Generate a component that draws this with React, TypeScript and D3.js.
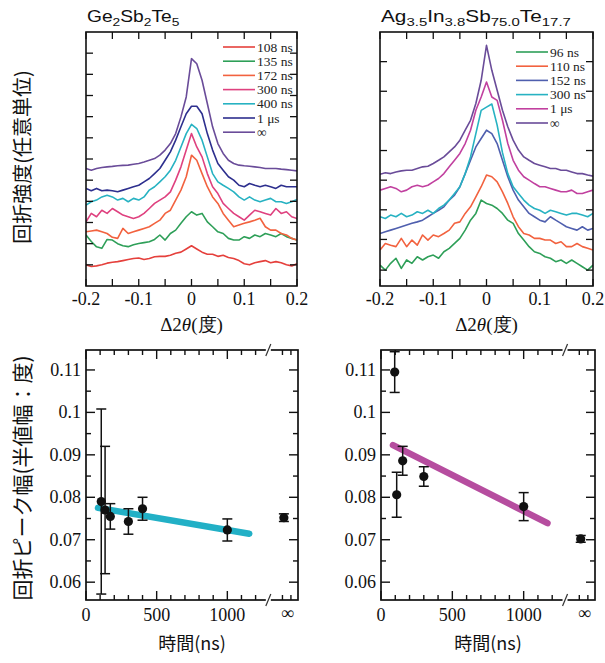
import * as d3 from "d3";

// Δ2θ sampling (degrees)
const deltaTheta = [
  -0.2, -0.19, -0.18, -0.17, -0.16, -0.15, -0.14, -0.13, -0.12, -0.11, -0.1,
  -0.09, -0.08, -0.07, -0.06, -0.05, -0.04, -0.03, -0.02, -0.01, 0,
  0.01, 0.02, 0.03, 0.04, 0.05, 0.06, 0.07, 0.08, 0.09, 0.1,
  0.11, 0.12, 0.13, 0.14, 0.15, 0.16, 0.17, 0.18, 0.19, 0.2,
];

// Ge2Sb2Te5 profiles, arbitrary units (offset as in the figure)
const gst108 = [1.0, 0.92, 0.95, 1.0, 1.08, 1.12, 1.15, 1.2, 1.25, 1.3, 1.32, 1.25, 1.3, 1.38, 1.4, 1.4, 1.45, 1.55, 1.6, 1.75, 1.9, 1.75, 1.6, 1.5, 1.5, 1.4, 1.45, 1.35, 1.3, 1.2, 1.05, 1.0, 1.1, 1.15, 1.2, 1.1, 1.15, 1.1, 1.0, 0.95, 1.05];
const gst135 = [2.41, 2.1, 1.85, 1.78, 2.2, 2.17, 2.0, 1.9, 1.86, 1.95, 2.01, 2.05, 2.09, 2.2, 2.41, 2.17, 2.48, 2.64, 2.96, 3.27, 3.51, 3.35, 3.43, 3.03, 2.8, 2.56, 2.48, 2.25, 2.17, 2.17, 2.33, 2.25, 2.41, 2.33, 2.48, 2.41, 2.33, 2.48, 2.33, 2.25, 2.17];
const gst172 = [2.56, 2.6, 2.64, 2.56, 2.48, 2.3, 2.25, 2.72, 2.48, 2.56, 2.64, 2.72, 2.8, 2.96, 3.11, 3.43, 3.58, 4.06, 4.53, 5.16, 6.18, 5.94, 5.31, 4.69, 4.21, 3.9, 3.43, 3.11, 2.8, 2.88, 2.96, 3.03, 3.11, 3.2, 2.8, 2.64, 2.64, 2.48, 2.41, 2.25, 2.17];
const gst300 = [3.03, 3.43, 3.27, 3.58, 3.43, 3.66, 3.51, 3.35, 3.27, 3.19, 3.27, 3.43, 3.66, 3.9, 4.06, 4.21, 4.45, 5.0, 5.63, 6.42, 7.2, 6.57, 6.1, 5.31, 4.69, 4.37, 3.9, 3.66, 3.43, 3.27, 3.11, 3.35, 3.58, 3.51, 3.43, 3.35, 3.66, 3.43, 3.51, 3.27, 3.19];
const gst400 = [3.82, 3.98, 4.06, 4.21, 4.29, 4.21, 4.06, 4.14, 3.98, 4.14, 4.06, 4.21, 4.53, 4.69, 4.92, 5.16, 5.47, 5.94, 6.57, 7.2, 7.64, 7.44, 6.89, 6.1, 5.31, 4.92, 4.76, 4.61, 4.45, 4.21, 4.06, 4.21, 4.06, 3.98, 4.06, 4.14, 3.98, 3.98, 3.9, 3.98, 4.09];
const gst1us = [4.61, 4.5, 4.61, 4.5, 4.53, 4.5, 4.45, 4.53, 4.61, 4.69, 4.76, 4.92, 5.08, 5.31, 5.55, 5.94, 6.34, 6.89, 7.52, 8.14, 8.49, 8.49, 8.14, 7.2, 6.42, 5.79, 5.47, 5.16, 5.0, 4.76, 4.69, 4.84, 4.76, 4.69, 4.76, 4.69, 4.61, 4.76, 4.69, 4.69, 4.69];
const gstInf = [5.55, 5.47, 5.55, 5.6, 5.63, 5.65, 5.68, 5.7, 5.71, 5.75, 5.79, 5.86, 5.94, 6.02, 6.18, 6.42, 6.73, 7.2, 7.99, 8.93, 10.74, 10.5, 9.72, 8.62, 7.52, 6.73, 6.26, 5.94, 5.79, 5.71, 5.68, 5.66, 5.63, 5.6, 5.55, 5.55, 5.55, 5.52, 5.5, 5.47, 5.44];

// Ag3.5In3.8Sb75.0Te17.7 profiles
const aist96 = [0.99, 0.75, 1.07, 1.31, 0.83, 1.23, 1.07, 1.38, 1.23, 1.38, 1.46, 1.31, 1.62, 1.78, 2.01, 2.25, 2.64, 3.11, 3.43, 4.06, 3.9, 3.82, 3.66, 3.43, 3.11, 2.96, 2.48, 2.17, 1.86, 1.62, 1.54, 1.38, 1.31, 1.15, 1.23, 1.07, 1.23, 1.07, 0.91, 0.75, 0.99];
const aist110 = [1.7, 2.01, 1.93, 1.86, 2.25, 1.86, 2.17, 1.93, 2.41, 2.17, 2.41, 2.33, 2.48, 2.64, 2.96, 3.03, 3.43, 3.74, 4.21, 4.69, 5.24, 5.16, 4.92, 4.45, 3.9, 3.27, 2.8, 2.48, 2.41, 2.25, 2.25, 2.17, 2.17, 2.01, 2.09, 1.86, 1.86, 2.01, 1.86, 1.78, 1.7];
const aist152 = [2.48, 2.56, 2.64, 2.72, 2.8, 2.88, 2.96, 3.03, 3.11, 3.27, 3.43, 3.58, 3.74, 4.06, 4.29, 4.69, 5.31, 5.94, 6.57, 6.97, 7.36, 7.2, 6.73, 5.94, 5.16, 4.53, 4.06, 3.74, 3.43, 3.27, 3.11, 3.03, 3.27, 3.11, 2.96, 2.8, 2.72, 2.64, 2.8, 2.64, 2.72];
const aist300 = [3.27, 3.19, 3.35, 3.27, 3.43, 3.27, 3.35, 3.51, 3.43, 3.58, 3.43, 3.66, 3.82, 4.06, 4.37, 4.69, 5.31, 6.1, 7.2, 8.3, 8.45, 8.6, 7.6, 6.3, 5.31, 4.69, 4.37, 4.06, 3.82, 3.66, 3.58, 3.43, 3.58, 3.51, 3.43, 3.35, 3.43, 3.43, 3.35, 3.27, 3.43];
const aist1us = [4.53, 4.61, 4.69, 4.61, 4.45, 4.53, 4.69, 4.76, 4.69, 4.76, 4.92, 5.08, 5.31, 5.63, 5.94, 6.26, 6.73, 7.36, 8.3, 8.93, 9.64, 8.93, 8.77, 7.83, 6.73, 5.94, 5.47, 5.16, 5.0, 4.84, 4.69, 4.69, 4.61, 4.53, 4.45, 4.45, 4.53, 4.37, 4.37, 4.45, 4.53];
const aistInf = [5.28, 5.35, 5.31, 5.39, 5.44, 5.47, 5.47, 5.55, 5.63, 5.66, 5.79, 5.94, 6.1, 6.34, 6.57, 6.89, 7.36, 7.83, 8.62, 9.72, 11.37, 10.19, 9.25, 8.3, 7.52, 6.89, 6.42, 6.1, 5.94, 5.79, 5.71, 5.63, 5.55, 5.55, 5.47, 5.47, 5.39, 5.31, 5.31, 5.24, 5.19];

const gstLabels = ["108 ns", "135 ns", "172 ns", "300 ns", "400 ns", "1 μs", "∞"];
const aistLabels = ["96 ns", "110 ns", "152 ns", "300 ns", "1 μs", "∞"];
const gstColors = ["#e5403c", "#2e9f58", "#f2623f", "#df417f", "#27b2c2", "#2d2f8e", "#6a4c99"];
const aistColors = ["#2e9f58", "#f2623f", "#4f5fae", "#27b2c2", "#c1409f", "#6a4c99"];

const dthetaTicks = [-0.2, -0.15, -0.1, -0.05, 0, 0.05, 0.1, 0.15, 0.2];
const dthetaLabels = ["-0.2", "-0.1", "0", "0.1", "0.2"];
const gstIntensityTicks = [1, 2, 3, 4, 5, 6, 7, 8, 9, 10, 11];
const aistIntensityTicks = [0.75, 2.2, 3.6, 5.0, 6.4, 7.8, 9.2, 10.6];

// peak width (FWHM, degrees) vs time
const gstTimes = [108, 135, 172, 300, 400, 1000];
const gstWidths = [0.079, 0.077, 0.0755, 0.0743, 0.0773, 0.0723];
const gstErrors = [0.0218, 0.015, 0.003, 0.003, 0.0027, 0.0026];
const gstInfWidth = [0.0752];
const gstInfError = [0.0009];
const gstFit = [[85, 0.0775], [1155, 0.0714]];

const aistTimes = [96, 110, 152, 300, 1000];
const aistWidths = [0.1095, 0.0806, 0.0886, 0.0849, 0.0778];
const aistErrors = [0.0048, 0.0053, 0.0034, 0.0023, 0.0033];
const aistInfWidth = [0.0702];
const aistInfError = [0.0008];
const aistFit = [[84, 0.0923], [1167, 0.0739]];

const widthMajor = [0.06, 0.07, 0.08, 0.09, 0.1, 0.11];
const widthMajorLabels = ["0.06", "0.07", "0.08", "0.09", "0.1", "0.11"];
const widthMinor = [0.065, 0.075, 0.085, 0.095, 0.105];
const timeMajor = [0, 500, 1000];
const timeMinor = [100, 200, 300, 400, 600, 700, 800, 900, 1100, 1200, 1390, 1450];
const INF_T = 1400;
const BREAK_T = 1290;

const SERIF = "'Liberation Serif', 'Times New Roman', serif";
const SANS = "'Liberation Sans', Arial, sans-serif";
const CJK = "'Noto Sans CJK JP', 'Noto Sans', sans-serif";

function SpectraPanel({ id, left, right, series, colors, labels, ticks, legendX, legendY, title }: any) {
  const top = 32, bottom = 286;
  const x = d3.scaleLinear().domain([-0.2, 0.2]).range([left, right]);
  const y = d3.scaleLinear().domain([0, 12]).range([bottom, top]);
  const line = d3.line<number>().x((_, i) => x(deltaTheta[i])).y((d) => y(d));
  const tl = 7;
  return (
    <g>
      <clipPath id={id}>
        <rect x={left} y={top} width={right - left} height={bottom - top} />
      </clipPath>
      <g clipPath={`url(#${id})`}>
        {series.map((s: number[], i: number) => (
          <path key={i} d={line(s) || ""} fill="none" stroke={colors[i]} strokeWidth={1.6} strokeLinejoin="round" />
        ))}
      </g>
      {dthetaTicks.map((t) => (
        <g key={t}>
          <line x1={x(t)} x2={x(t)} y1={bottom} y2={bottom - tl} stroke="#111" strokeWidth={1.3} />
          <line x1={x(t)} x2={x(t)} y1={top} y2={top + tl} stroke="#111" strokeWidth={1.3} />
        </g>
      ))}
      {ticks.map((t: number) => (
        <g key={t}>
          <line x1={left} x2={left + tl} y1={y(t)} y2={y(t)} stroke="#111" strokeWidth={1.3} />
          <line x1={right} x2={right - tl} y1={y(t)} y2={y(t)} stroke="#111" strokeWidth={1.3} />
        </g>
      ))}
      <rect x={left} y={top} width={right - left} height={bottom - top} fill="none" stroke="#111" strokeWidth={1.6} />
      {dthetaLabels.map((l) => (
        <text key={l} x={x(+l)} y={305} textAnchor="middle" fontFamily={SERIF} fontSize={18} fill="#111">{l}</text>
      ))}
      <text x={(left + right) / 2} y={331} textAnchor="middle" fontFamily={SERIF} fontSize={19} fill="#111">
        Δ2<tspan fontStyle="italic">θ</tspan>(度)
      </text>
      {labels.map((l: string, i: number) => (
        <g key={l}>
          <line x1={legendX} x2={legendX + 32} y1={legendY + i * 14.2} y2={legendY + i * 14.2} stroke={colors[i]} strokeWidth={1.6} />
          <text x={legendX + 34} y={legendY + i * 14.2 + 4.5} fontFamily={SERIF} fontSize={13.5} fill="#222">{l}</text>
        </g>
      ))}
      {title}
    </g>
  );
}

function WidthPanel({ id, left, right, times, widths, errors, infWidth, infError, fit, fitColor }: any) {
  const top = 350, bottom = 600;
  const x = d3.scaleLinear().domain([0, 1500]).range([left, right]);
  const y = d3.scaleLinear().domain([0.0558, 0.1147]).range([bottom, top]);
  const bx = x(BREAK_T);
  const cap = 5;
  const pts = times.map((t: number, i: number) => ({ t, w: widths[i], e: errors[i] }));
  pts.push({ t: INF_T, w: infWidth[0], e: infError[0] });
  return (
    <g>
      <clipPath id={id}>
        <rect x={left} y={top} width={right - left} height={bottom - top} />
      </clipPath>
      {timeMajor.map((t) => (
        <g key={t}>
          <line x1={x(t)} x2={x(t)} y1={bottom} y2={bottom - 9} stroke="#111" strokeWidth={1.4} />
          <line x1={x(t)} x2={x(t)} y1={top} y2={top + 9} stroke="#111" strokeWidth={1.4} />
        </g>
      ))}
      {timeMinor.map((t) => (
        <g key={t}>
          <line x1={x(t)} x2={x(t)} y1={bottom} y2={bottom - 5} stroke="#111" strokeWidth={1.4} />
          <line x1={x(t)} x2={x(t)} y1={top} y2={top + 5} stroke="#111" strokeWidth={1.4} />
        </g>
      ))}
      {widthMajor.map((v) => (
        <g key={v}>
          <line x1={left} x2={left + 9} y1={y(v)} y2={y(v)} stroke="#111" strokeWidth={1.4} />
          <line x1={right} x2={right - 9} y1={y(v)} y2={y(v)} stroke="#111" strokeWidth={1.4} />
        </g>
      ))}
      {widthMinor.map((v) => (
        <g key={v}>
          <line x1={left} x2={left + 5} y1={y(v)} y2={y(v)} stroke="#111" strokeWidth={1.4} />
          <line x1={right} x2={right - 5} y1={y(v)} y2={y(v)} stroke="#111" strokeWidth={1.4} />
        </g>
      ))}
      <rect x={left} y={top} width={right - left} height={bottom - top} fill="none" stroke="#111" strokeWidth={1.7} />
      {[top, bottom].map((fy) => (
        <g key={fy}>
          <rect x={bx - 2.5} y={fy - 2} width={5} height={4} fill="#fff" />
          <line x1={bx - 2.5} x2={bx + 2.5} y1={fy + 6} y2={fy - 6} stroke="#333" strokeWidth={1.2} />
        </g>
      ))}
      <line x1={x(fit[0][0])} y1={y(fit[0][1])} x2={x(fit[1][0])} y2={y(fit[1][1])} stroke={fitColor} strokeWidth={6.5} strokeLinecap="round" />
      <g clipPath={`url(#${id})`}>
        {pts.map((p: any, i: number) => (
          <g key={i}>
            <line x1={x(p.t)} x2={x(p.t)} y1={y(p.w - p.e)} y2={y(p.w + p.e)} stroke="#111" strokeWidth={1.5} />
            <line x1={x(p.t) - cap} x2={x(p.t) + cap} y1={y(p.w - p.e)} y2={y(p.w - p.e)} stroke="#111" strokeWidth={1.5} />
            <line x1={x(p.t) - cap} x2={x(p.t) + cap} y1={y(p.w + p.e)} y2={y(p.w + p.e)} stroke="#111" strokeWidth={1.5} />
            <circle cx={x(p.t)} cy={y(p.w)} r={4.6} fill="#111" />
          </g>
        ))}
      </g>
      {widthMajor.map((v, i) => (
        <text key={v} x={left - 5} y={y(v) + 6} textAnchor="end" fontFamily={SERIF} fontSize={18} fill="#111">{widthMajorLabels[i]}</text>
      ))}
      {timeMajor.map((t) => (
        <text key={t} x={x(t)} y={621} textAnchor="middle" fontFamily={SERIF} fontSize={18} fill="#111">{t}</text>
      ))}
      <text x={x(1425)} y={619} textAnchor="middle" fontFamily={SERIF} fontSize={18} fill="#111">∞</text>
      <text x={(left + right) / 2} y={650} textAnchor="middle" fontFamily={CJK} fontSize={18} fill="#111">時間(ns)</text>
    </g>
  );
}

export default function App() {
  return (
    <svg width={605} height={663} style={{ position: "absolute", left: 0, top: 0, background: "#fff" }}>
      <rect width={605} height={663} fill="#fff" />
      <SpectraPanel
        id="c1" left={86} right={297}
        series={[gst108, gst135, gst172, gst300, gst400, gst1us, gstInf]}
        colors={gstColors} labels={gstLabels} ticks={gstIntensityTicks}
        legendX={223} legendY={47}
        title={
          <g transform="translate(87,22) scale(1.2,1)">
            <text x={0} y={0} fontFamily={SANS} fontSize={16} fill="#111">
              Ge<tspan fontSize={11.5} dy={4}>2</tspan><tspan dy={-4}>Sb</tspan><tspan fontSize={11.5} dy={4}>2</tspan><tspan dy={-4}>Te</tspan><tspan fontSize={11.5} dy={4}>5</tspan>
            </text>
          </g>
        }
      />
      <SpectraPanel
        id="c2" left={380} right={593}
        series={[aist96, aist110, aist152, aist300, aist1us, aistInf]}
        colors={aistColors} labels={aistLabels} ticks={aistIntensityTicks}
        legendX={516} legendY={52}
        title={
          <g transform="translate(381,22) scale(1.3,1)">
            <text x={0} y={0} fontFamily={SANS} fontSize={16} fill="#111">
              Ag<tspan fontSize={11.5} dy={4}>3.5</tspan><tspan dy={-4}>In</tspan><tspan fontSize={11.5} dy={4}>3.8</tspan><tspan dy={-4}>Sb</tspan><tspan fontSize={11.5} dy={4}>75.0</tspan><tspan dy={-4}>Te</tspan><tspan fontSize={11.5} dy={4}>17.7</tspan>
            </text>
          </g>
        }
      />
      <WidthPanel
        id="c3" left={86} right={298}
        times={gstTimes} widths={gstWidths} errors={gstErrors}
        infWidth={gstInfWidth} infError={gstInfError} fit={gstFit} fitColor="#22b0c6"
      />
      <WidthPanel
        id="c4" left={381} right={595}
        times={aistTimes} widths={aistWidths} errors={aistErrors}
        infWidth={aistInfWidth} infError={aistInfError} fit={aistFit} fitColor="#b64d9f"
      />
      <text transform="translate(21,157) rotate(-90)" textAnchor="middle" dominantBaseline="central" fontFamily={CJK} fontSize={20} fill="#111">回折強度(任意単位)</text>
      <text transform="translate(21,478) rotate(-90)" textAnchor="middle" dominantBaseline="central" fontFamily={CJK} fontSize={21} fill="#111">回折ピーク幅(半値幅：度)</text>
    </svg>
  );
}
